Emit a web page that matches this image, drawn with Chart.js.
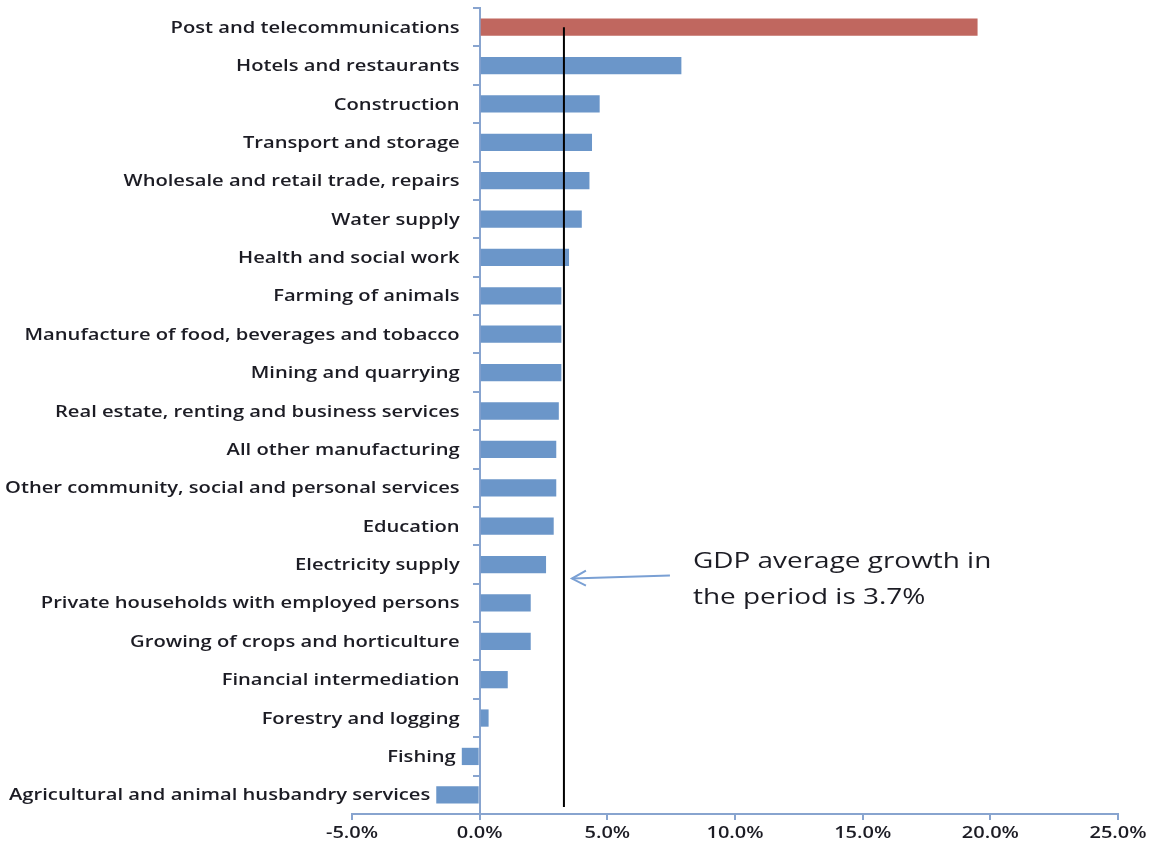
<!DOCTYPE html>
<html>
<head>
<meta charset="utf-8">
<script src="https://cdn.jsdelivr.net/npm/chart.js@4.4.1/dist/chart.umd.min.js"></script>
<style>
    html, body { margin: 0; padding: 0; background: #fff; }
    #wrap { width: 1154px; height: 858px; position: relative; }
</style>
</head>
<body>
<div id="wrap"><canvas id="growthChart"></canvas></div>
<script>
// ================================
// Data
// ================================
const sectors = [
    "Post and telecommunications",
    "Hotels and restaurants",
    "Construction",
    "Transport and storage",
    "Wholesale and retail trade, repairs",
    "Water supply",
    "Health and social work",
    "Farming of animals",
    "Manufacture of food, beverages and tobacco",
    "Mining and quarrying",
    "Real estate, renting and business services",
    "All other manufacturing",
    "Other community, social and personal services",
    "Education",
    "Electricity supply",
    "Private households with employed persons",
    "Growing of crops and horticulture",
    "Financial intermediation",
    "Forestry and logging",
    "Fishing",
    "Agricultural and animal husbandry services"
];
const growth = [19.5, 7.9, 4.7, 4.4, 4.3, 4.0, 3.5, 3.2, 3.2, 3.2, 3.1, 3.0, 3.0, 2.9, 2.6, 2.0, 2.0, 1.1, 0.35, -0.7, -1.7];
const xTicks = [-5, 0, 5, 10, 15, 20, 25];
const gdpLine = 3.3;
const noteLines = ["GDP average growth in", "the period is 3.7%"];

const FONT = "'Open Sans', Lato, sans-serif";
const AXIS_COLOR = "#88a4cf";
const TEXT_COLOR = "#1c1c24";

// the source picture is stretched sideways, so text is drawn a bit wider
function drawWide(ctx, text, x, y, align, sx) {
    const w = ctx.measureText(text).width * sx;
    let left = x;
    if (align === "right") left = x - w;
    if (align === "center") left = x - w / 2;
    ctx.save();
    ctx.translate(left, y);
    ctx.scale(sx, 1);
    ctx.textAlign = "left";
    ctx.fillText(text, 0, 0);
    ctx.restore();
}

// ================================
// Axis labels (drawn by hand)
// ================================
const labelPlugin = {
    id: "wideLabels",
    afterDraw(chart) {
        const ctx = chart.ctx;
        const x = chart.scales.x;
        const y = chart.scales.y;
        const x0 = x.getPixelForValue(0);
        ctx.save();
        ctx.fillStyle = TEXT_COLOR;
        ctx.textBaseline = "middle";

        ctx.font = "600 16px " + FONT;
        sectors.forEach((name, i) => {
            let right = x0 - 20;
            // keep the label clear of a negative bar
            if (growth[i] < 0) right = Math.min(right, x.getPixelForValue(growth[i]) - 6);
            drawWide(ctx, name, right, y.getPixelForValue(i) + 1, "right", 1.26);
        });

        xTicks.forEach(v => {
            drawWide(ctx, v.toFixed(1) + "%", x.getPixelForValue(v), chart.chartArea.bottom + 19, "center", 1.25);
        });
        ctx.restore();
    }
};

// ================================
// GDP line + arrow + note
// ================================
const gdpPlugin = {
    id: "gdpLine",
    afterDatasetsDraw(chart) {
        const ctx = chart.ctx;
        const x = chart.scales.x;
        const y = chart.scales.y;
        const lx = x.getPixelForValue(gdpLine);
        const top = y.getPixelForValue(0);
        const bottom = chart.chartArea.bottom - 7;

        ctx.save();
        ctx.strokeStyle = "#000";
        ctx.lineWidth = 2;
        ctx.beginPath();
        ctx.moveTo(lx, top);
        ctx.lineTo(lx, bottom);
        ctx.stroke();

        // arrow pointing to the line
        const ay = y.getPixelForValue(14) + 14;
        const tipX = lx + 8;
        const tailX = lx + 106;
        ctx.strokeStyle = "#7aa0d4";
        ctx.lineWidth = 2;
        ctx.beginPath();
        ctx.moveTo(tailX, ay - 3);
        ctx.lineTo(tipX, ay);
        ctx.stroke();
        ctx.beginPath();
        ctx.moveTo(tipX + 14, ay - 8);
        ctx.lineTo(tipX, ay);
        ctx.lineTo(tipX + 14, ay + 7);
        ctx.stroke();

        ctx.fillStyle = TEXT_COLOR;
        ctx.font = "21px " + FONT;
        ctx.textBaseline = "middle";
        drawWide(ctx, noteLines[0], lx + 129, ay - 17, "left", 1.33);
        drawWide(ctx, noteLines[1], lx + 129, ay + 19, "left", 1.33);
        ctx.restore();
    }
};

new Chart(document.getElementById("growthChart"), {
    type: "bar",
    data: {
        labels: sectors,
        datasets: [{
            data: growth,
            backgroundColor: growth.map((v, i) => i === 0 ? "#c0675f" : "#6b96c9"),
            barPercentage: 0.9,
            categoryPercentage: 0.5
        }]
    },
    options: {
        indexAxis: "y",
        responsive: true,
        maintainAspectRatio: false,
        animation: false,
        layout: { padding: { left: 352, right: 36, top: 8, bottom: 38 } },
        plugins: {
            legend: { display: false },
            tooltip: { enabled: false }
        },
        scales: {
            x: {
                min: -5,
                max: 25,
                afterBuildTicks(axis) {
                    axis.ticks = xTicks.map(v => ({ value: v }));
                },
                ticks: { display: false },
                grid: {
                    drawOnChartArea: false,
                    tickLength: 6,
                    color: AXIS_COLOR,
                    lineWidth: 2
                },
                border: { color: AXIS_COLOR, width: 2 }
            },
            y: {
                position: { x: 0 },
                ticks: { display: false, autoSkip: false },
                grid: {
                    drawOnChartArea: false,
                    offset: true,
                    tickLength: 6,
                    color: AXIS_COLOR,
                    lineWidth: 2
                },
                border: { color: AXIS_COLOR, width: 2 }
            }
        }
    },
    plugins: [gdpPlugin, labelPlugin]
});
</script>
</body>
</html>
